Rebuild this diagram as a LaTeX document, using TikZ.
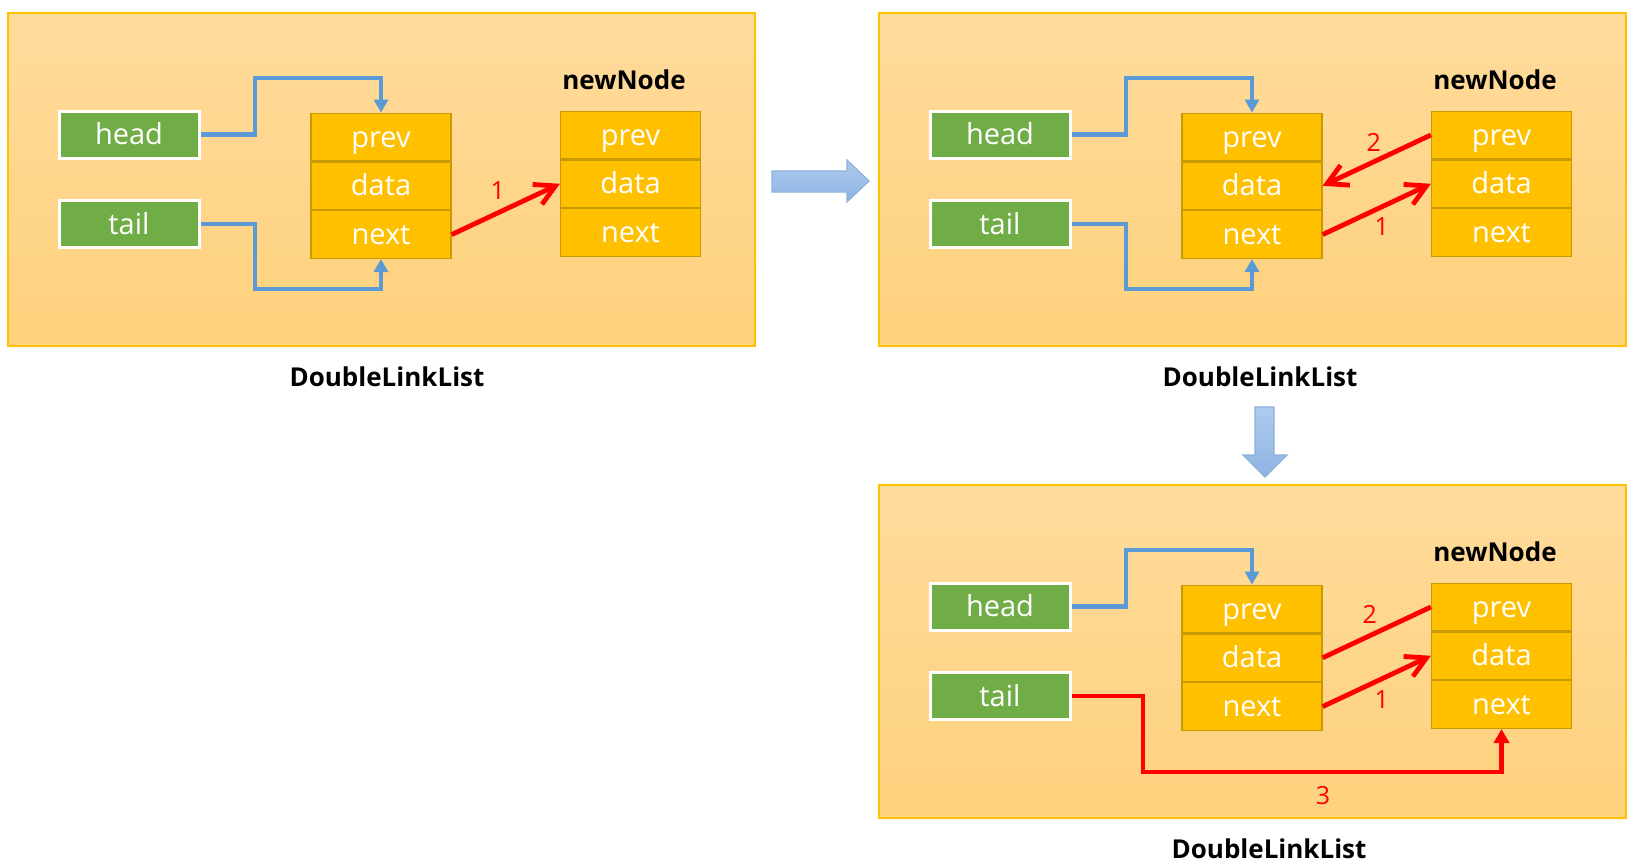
\documentclass[tikz,border=0pt]{standalone}
\usepackage{fontspec}
\setmainfont{Open Sans}
\usetikzlibrary{positioning,arrows.meta}

\definecolor{panelTop}{HTML}{FFDB9C}
\definecolor{panelBot}{HTML}{FED17C}
\definecolor{panelEdge}{HTML}{FFC000}
\definecolor{cellFill}{HTML}{FFC000}
\definecolor{cellEdge}{HTML}{C99A06}
\definecolor{ptrGreen}{HTML}{70AD47}
\definecolor{linkBlue}{HTML}{5B9BD5}
\definecolor{bigTop}{HTML}{AECBEE}
\definecolor{bigBot}{HTML}{8DB3E2}
\definecolor{bigEdge}{HTML}{8EB1DC}

\begin{document}
\begin{tikzpicture}[x=0.5pt,y=-0.5pt,
  panel/.style={draw=panelEdge, line width=0.8pt, top color=panelTop, bottom color=panelBot},
  ptr/.style={draw=white, line width=1.5pt, fill=ptrGreen, text=white, minimum width=70pt, minimum height=23.5pt, inner sep=0pt, text height=11.5pt, text depth=1.5pt, font=\fontsize{14.5}{16}\selectfont},
  cell/.style={draw=cellEdge, line width=0.6pt, fill=cellFill, text=white, minimum width=70pt, minimum height=23.8pt, inner sep=0pt, text height=11.5pt, text depth=1.5pt, font=\fontsize{14.5}{16}\selectfont},
  title/.style={font=\bfseries\fontsize{13}{15}\selectfont},
  link/.style={draw=linkBlue, line width=2.3pt, -{Triangle[length=6.5pt,width=7pt]}},
  redlink/.style={draw=red, line width=2.4pt, -{Straight Barb[length=10pt,width=11pt]}},
  redline/.style={draw=red, line width=2.4pt},
  redhead/.style={redline, -{Triangle[length=7pt,width=7.5pt]}},
  num/.style={text=red, font=\fontsize{12.5}{14}\selectfont},
  bigarrow/.style={draw=bigEdge, line width=0.6pt, top color=bigTop, bottom color=bigBot}]
\fill[white] (0,0) rectangle (1640,862);
\useasboundingbox (0,0) rectangle (1640,862);

% Step 1: next of tail points to newNode
\begin{scope}
\draw[panel] (8,13) rectangle (755,346);
\node[ptr] (h1) at (129,134.5) {head};
\node[ptr] (t1) at (129,224) {tail};
\node[cell] (p1) at (381,137) {prev};
\node[cell, below=0pt of p1] (d1) {data};
\node[cell, below=0pt of d1] (x1) {next};
\node[cell] (p1n) at (630.5,135) {prev};
\node[cell, below=0pt of p1n] (d1n) {data};
\node[cell, below=0pt of d1n] (x1n) {next};
\node[title] (new1) at (624,80) {newNode};
\draw[link] (h1.east) -| (255,78) -| (p1.north);
\draw[link] (t1.east) -| (255,289) -| (x1.south);
\draw[redlink] (x1.east) -- (d1n.west) node[num, midway, xshift=-4pt, yshift=9.5pt] (l1a) {1};
\end{scope}

% Step 2: prev of newNode points to tail
\begin{scope}[shift={(871,0)}]
\draw[panel] (8,13) rectangle (755,346);
\node[ptr] (h2) at (129,134.5) {head};
\node[ptr] (t2) at (129,224) {tail};
\node[cell] (p2) at (381,137) {prev};
\node[cell, below=0pt of p2] (d2) {data};
\node[cell, below=0pt of d2] (x2) {next};
\node[cell] (p2n) at (630.5,135) {prev};
\node[cell, below=0pt of p2n] (d2n) {data};
\node[cell, below=0pt of d2n] (x2n) {next};
\node[title] (new2) at (624,80) {newNode};
\draw[link] (h2.east) -| (255,78) -| (p2.north);
\draw[link] (t2.east) -| (255,289) -| (x2.south);
\draw[redlink] (x2.east) -- (d2n.west) node[num, midway, xshift=2.5pt, yshift=-8.5pt] (l2a) {1};
\draw[redlink] (p2n.west) -- (d2.east) node[num, midway, xshift=-1.5pt, yshift=9pt] (l2b) {2};
\end{scope}

% Step 3: tail moves to newNode
\begin{scope}[shift={(871,472)}]
\draw[panel] (8,13) rectangle (755,346);
\node[ptr] (h3) at (129,134.5) {head};
\node[ptr] (t3) at (129,224) {tail};
\node[cell] (p3) at (381,137) {prev};
\node[cell, below=0pt of p3] (d3) {data};
\node[cell, below=0pt of d3] (x3) {next};
\node[cell] (p3n) at (630.5,135) {prev};
\node[cell, below=0pt of p3n] (d3n) {data};
\node[cell, below=0pt of d3n] (x3n) {next};
\node[title] (new3) at (624,80) {newNode};
\draw[link] (h3.east) -| (255,78) -| (p3.north);
\draw[redlink] (x3.east) -- (d3n.west) node[num, midway, xshift=2.5pt, yshift=-9pt] (l3a) {1};
\draw[redline] (d3.east) -- (p3n.west) node[num, midway, xshift=-3.5pt, yshift=9pt] (l3b) {2};
\draw[redhead] (t3.east) -| (272,300) -| (x3n.south);
\node[num] (l3c) at (452,324) {3};
\end{scope}

% Captions
\node[title] (cap1) at (387,377) {DoubleLinkList};
\node[title] (cap2) at (1260,377) {DoubleLinkList};
\node[title] (cap3) at (1269,849) {DoubleLinkList};

% Block arrows between steps
\draw[bigarrow] (772,171) -- (847,171) -- (847,160) -- (869,181) -- (847,202) -- (847,192) -- (772,192) -- cycle;
\draw[bigarrow] (1255,407) -- (1274,407) -- (1274,455) -- (1287,455) -- (1265,477) -- (1243,455) -- (1255,455) -- cycle;
\end{tikzpicture}
\end{document}
